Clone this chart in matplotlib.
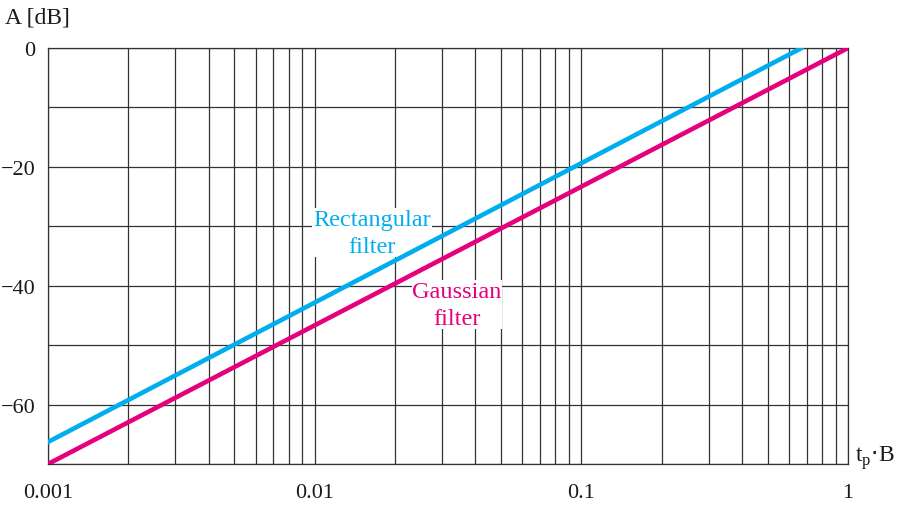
import numpy as np
import matplotlib.pyplot as plt
from matplotlib.ticker import LogLocator, NullFormatter

plt.rcParams['font.family'] = ['Liberation Serif', 'DejaVu Serif']

# data
gauss_x = [0.001, 1.0]
gauss_y = [-70, 0]
rect_x = [0.001, 0.67]
rect_y = [-66.3, 0]

x_ticks = [0.001, 0.01, 0.1, 1]
x_labels = ["0.001", "0.01", "0.1", "1"]
y_ticks = [0, -20, -40, -60]
y_labels = ["0", "\u221220", "\u221240", "\u221260"]

CYAN = "#00aeef"
MAGENTA = "#e6007e"
GRID = "#333333"
TXT = "#1a1a1a"

fig = plt.figure(figsize=(9.07, 5.06), dpi=100)
ax = fig.add_axes([48 / 907, 1 - 465 / 506, 800 / 907, 416 / 506])

ax.set_xscale("log")
ax.set_xlim(0.001, 1)
ax.set_ylim(-70, 0)

ax.xaxis.set_minor_locator(LogLocator(base=10, subs=np.arange(2, 10)))
ax.xaxis.set_minor_formatter(NullFormatter())
ax.set_xticks(x_ticks)
ax.set_xticklabels(x_labels)
ygrid = np.arange(-70, 1, 10)
ax.set_yticks(ygrid)
ax.set_yticklabels([y_labels[y_ticks.index(v)] if v in y_ticks else ""
                    for v in ygrid])

ax.grid(True, which="both", axis="x", color=GRID, lw=0.9)
ax.grid(True, which="major", axis="y", color=GRID, lw=0.9)
ax.tick_params(which="both", length=0, labelsize=16, colors=TXT)
ax.tick_params(axis="x", pad=14)
ax.tick_params(axis="y", pad=9)
for s in ax.spines.values():
    s.set_color(GRID)
    s.set_linewidth(0.9)

ax.plot(rect_x, rect_y, color=CYAN, lw=3.3, solid_capstyle="round", zorder=4)
ax.plot(gauss_x, gauss_y, color=MAGENTA, lw=3.3, solid_capstyle="round", zorder=4)

ax.text(0.0164, -31.1, "Rectangular\nfilter", color=CYAN, fontsize=17.5,
        ha="center", va="center", linespacing=1.35, zorder=3,
        bbox=dict(facecolor="white", edgecolor="none", pad=0.5))
ax.text(0.0342, -43.2, "Gaussian\nfilter", color=MAGENTA, fontsize=17.5,
        ha="center", va="center", linespacing=1.35, zorder=3,
        bbox=dict(facecolor="white", edgecolor="none", pad=0.5))

fig.text(5 / 907, 1 - 18 / 506, "A [dB]", fontsize=17, ha="left", va="center",
         color=TXT)
fig.text(855 / 907, 1 - 458 / 506, r"t$_\mathregular{p}$$\cdot$B", fontsize=17,
         ha="left", va="center", color=TXT)

fig.savefig("out.png", dpi=100, facecolor="white")
